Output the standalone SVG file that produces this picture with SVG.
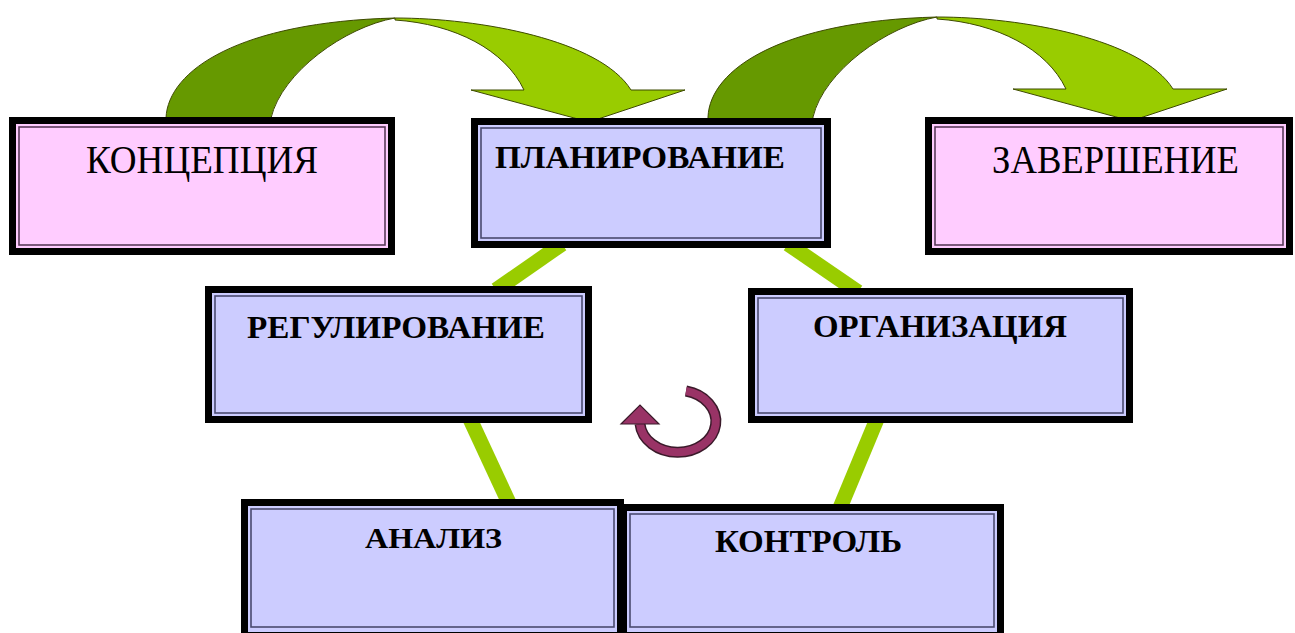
<svg xmlns="http://www.w3.org/2000/svg" xmlns:xlink="http://www.w3.org/1999/xlink" width="1295" height="633" viewBox="0 0 1295 633">
<style>
.frame{fill:#000}
.pink{fill:#ffccff}
.lav{fill:#ccccff}
.inl{fill:none;stroke:#4a4a70;stroke-width:1.6}
.inp{fill:none;stroke:#5a3a5a;stroke-width:1.6}
.t{font-family:"Liberation Serif","Times New Roman",serif;fill:#000}
.b{font-weight:bold}
.link{stroke:#99cc00;stroke-width:15;stroke-linecap:butt;fill:none}
.dark{fill:#669900;stroke:#3d4a00;stroke-width:1}
.light{fill:#99cc00;stroke:#3d4a00;stroke-width:1}
</style>
<defs>
<g id="curvedArrow">
<path class="dark" d="M166,124 L166,118 C168,70 240,22 395,18 C345,27 282,72 271,118 L271,124 Z"/>
<path class="light" d="M395,18 C480,18 600,40 631,90 L685,90 L589,122 L471,90 L524,90 C505,50 455,24 395,20 Z"/>
</g>
</defs>
<rect width="1295" height="633" fill="#fff"/>
<g id="connectors">
<line class="link" x1="562" y1="244" x2="496" y2="290"/>
<line class="link" x1="788" y1="244" x2="858" y2="292"/>
<line class="link" x1="470" y1="419" x2="509" y2="503"/>
<line class="link" x1="877" y1="419" x2="840" y2="508"/>
<use xlink:href="#curvedArrow"/>
<use xlink:href="#curvedArrow" transform="translate(542,-1)"/>
</g>
<g id="koncepciya">
<rect class="frame" x="9" y="117" width="386" height="138"/>
<rect class="pink" x="16" y="124" width="372" height="124"/>
<rect class="inp" x="19" y="127" width="366" height="118"/>
<text class="t" x="86" y="173" font-size="39" textLength="232" lengthAdjust="spacingAndGlyphs">КОНЦЕПЦИЯ</text>
</g>
<g id="planirovanie">
<rect class="frame" x="471" y="118" width="360" height="130"/>
<rect class="lav" x="478" y="125" width="346" height="116"/>
<rect class="inl" x="481" y="128" width="340" height="110"/>
<text class="t b" x="495" y="168" font-size="31" textLength="290" lengthAdjust="spacingAndGlyphs">ПЛАНИРОВАНИЕ</text>
</g>
<g id="zavershenie">
<rect class="frame" x="925" y="117" width="368" height="138"/>
<rect class="pink" x="932" y="124" width="354" height="124"/>
<rect class="inp" x="935" y="127" width="348" height="118"/>
<text class="t" x="992" y="173" font-size="39" textLength="247" lengthAdjust="spacingAndGlyphs">ЗАВЕРШЕНИЕ</text>
</g>
<g id="regulirovanie">
<rect class="frame" x="205" y="286" width="387" height="137"/>
<rect class="lav" x="212" y="293" width="373" height="123"/>
<rect class="inl" x="215" y="296" width="367" height="117"/>
<text class="t b" x="247" y="338" font-size="31" textLength="298" lengthAdjust="spacingAndGlyphs">РЕГУЛИРОВАНИЕ</text>
</g>
<g id="organizaciya">
<rect class="frame" x="748" y="288" width="385" height="135"/>
<rect class="lav" x="755" y="295" width="371" height="121"/>
<rect class="inl" x="758" y="298" width="365" height="115"/>
<text class="t b" x="813" y="337" font-size="31" textLength="254" lengthAdjust="spacingAndGlyphs">ОРГАНИЗАЦИЯ</text>
</g>
<g id="analiz">
<rect class="frame" x="241" y="499" width="383" height="140"/>
<rect class="lav" x="248" y="506" width="369" height="126"/>
<rect class="inl" x="251" y="509" width="363" height="118"/>
<text class="t b" x="365" y="548" font-size="30" textLength="137" lengthAdjust="spacingAndGlyphs">АНАЛИЗ</text>
</g>
<g id="kontrol">
<rect class="frame" x="618" y="504" width="386" height="135"/>
<rect class="lav" x="627" y="511" width="370" height="121"/>
<rect class="inl" x="630" y="514" width="364" height="113"/>
<text class="t b" x="715" y="552" font-size="31" textLength="187" lengthAdjust="spacingAndGlyphs">КОНТРОЛЬ</text>
</g>
<g id="cycle">
<path d="M686,391 A38,31 0 1 1 640,424" fill="none" stroke="#3a1a2a" stroke-width="11"/>
<path d="M686,391 A38,31 0 1 1 640,424" fill="none" stroke="#993366" stroke-width="8"/>
<polygon points="621,424 659,424 640,405" fill="#993366" stroke="#3a1a2a" stroke-width="1.2"/>
</g>
</svg>
